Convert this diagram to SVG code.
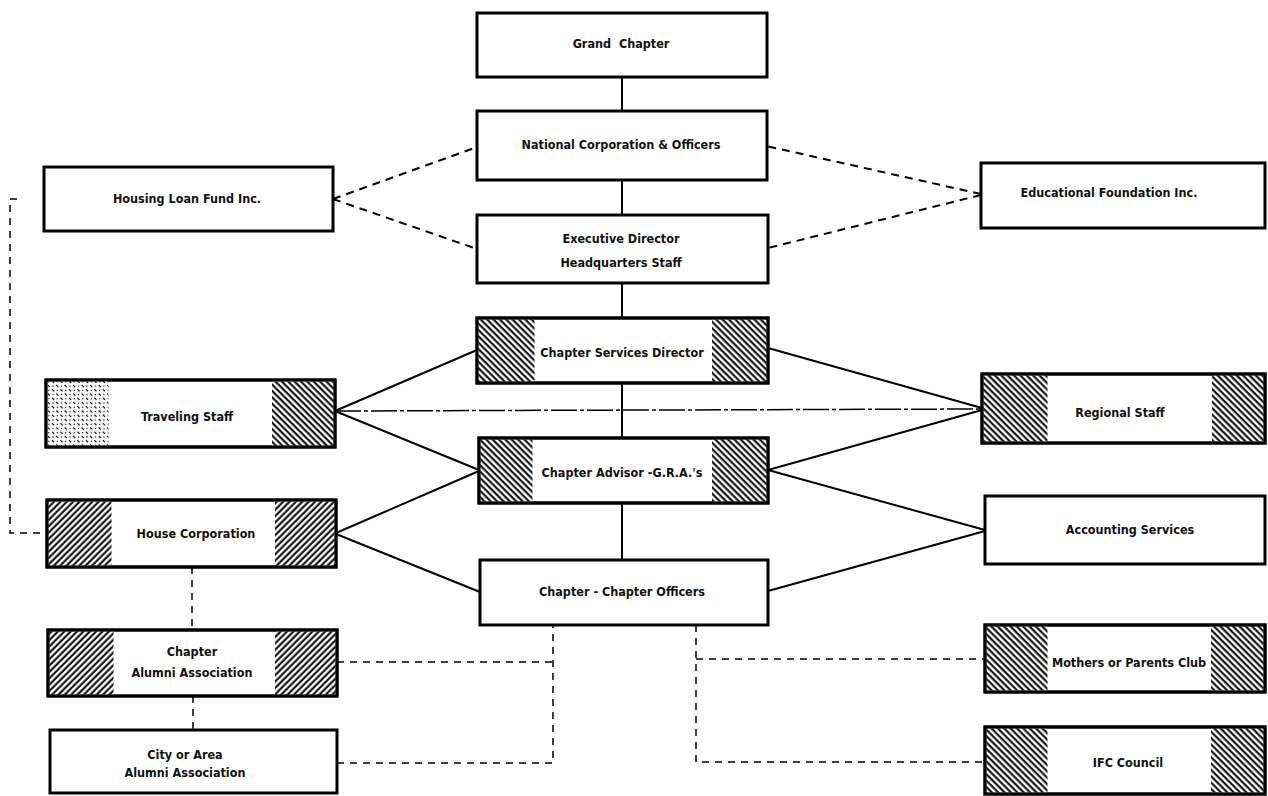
<svg xmlns="http://www.w3.org/2000/svg" width="1268" height="796" viewBox="0 0 1268 796">
<style>
.box{fill:#fff;stroke:#000;stroke-width:3}
.frame{fill:none;stroke:#000;stroke-width:3}
.t{font-family:"DejaVu Sans Condensed","Liberation Sans",sans-serif;font-weight:bold;font-size:12.5px;text-anchor:middle;fill:#111}
.solid{stroke:#000;stroke-width:2;fill:none}
.dash{stroke:#000;stroke-width:2;fill:none;stroke-dasharray:8 6}
.thin{stroke:#000;stroke-width:1.5;fill:none;stroke-dasharray:7 6}
.dd{stroke:#000;stroke-width:1.5;fill:none;stroke-dasharray:26 3 4 3}
.hb{fill:url(#hb)}
.hf{fill:url(#hf)}
.st{fill:url(#st)}
</style>
<defs>
<pattern id="hb" width="4.5" height="4.5" patternUnits="userSpaceOnUse" patternTransform="rotate(-45)">
<rect width="4.5" height="4.5" fill="#fff"/>
<line x1="1.5" y1="0" x2="1.5" y2="4.5" stroke="#000" stroke-width="2"/>
</pattern>
<pattern id="hf" width="4.5" height="4.5" patternUnits="userSpaceOnUse" patternTransform="rotate(45)">
<rect width="4.5" height="4.5" fill="#fff"/>
<line x1="1.5" y1="0" x2="1.5" y2="4.5" stroke="#000" stroke-width="2"/>
</pattern>
<pattern id="st" width="6" height="6" patternUnits="userSpaceOnUse" patternTransform="rotate(-45)">
<rect width="6" height="6" fill="#fff"/>
<line x1="1.5" y1="0" x2="1.5" y2="3" stroke="#000" stroke-width="1.2"/>
<circle cx="4.5" cy="4.5" r="0.7" fill="#000"/>
</pattern>
</defs>

<g id="connectors">
<line class="solid" x1="622" y1="77" x2="622" y2="111"/>
<line class="solid" x1="622" y1="180" x2="622" y2="215"/>
<line class="solid" x1="622" y1="283" x2="622" y2="318"/>
<line class="solid" x1="622" y1="383" x2="622" y2="438"/>
<line class="solid" x1="622" y1="503" x2="622" y2="560"/>
<line class="dash" x1="333" y1="199" x2="477" y2="147"/>
<line class="dash" x1="333" y1="199" x2="477" y2="249"/>
<line class="dash" x1="981" y1="194" x2="766" y2="146"/>
<line class="dash" x1="981" y1="195" x2="768" y2="248"/>
<line class="solid" x1="335" y1="411" x2="477" y2="350"/>
<line class="solid" x1="335" y1="411" x2="479" y2="470"/>
<line class="dd" x1="335" y1="411" x2="982" y2="409"/>
<line class="solid" x1="768" y1="348" x2="982" y2="408"/>
<line class="solid" x1="768" y1="470" x2="982" y2="410"/>
<line class="solid" x1="768" y1="470" x2="985" y2="530"/>
<line class="solid" x1="336" y1="533" x2="479" y2="471"/>
<line class="solid" x1="336" y1="534" x2="480" y2="592"/>
<line class="solid" x1="768" y1="591" x2="985" y2="531"/>
<polyline class="thin" points="17,199 10,199 10,533 46,533"/>
<line class="thin" x1="192" y1="567" x2="192" y2="630"/>
<line class="thin" x1="193" y1="696" x2="193" y2="730"/>
<polyline class="thin" points="337,662 553,662"/>
<polyline class="thin" points="337,763 553,763 553,625"/>
<polyline class="thin" points="696,625 696,762 985,762"/>
<line class="thin" x1="696" y1="659" x2="985" y2="659"/>
</g>

<g id="grand-chapter">
<rect class="box" x="477" y="13" width="290" height="64"/>
<text class="t" x="621" y="48">Grand&#160; Chapter</text>
</g>
<g id="national-corporation">
<rect class="box" x="477" y="111" width="290" height="69"/>
<text class="t" x="621" y="149">National Corporation &amp; Officers</text>
</g>
<g id="executive-director">
<rect class="box" x="477" y="215" width="291" height="68"/>
<text class="t" x="621" y="243">Executive Director</text>
<text class="t" x="621" y="267">Headquarters Staff</text>
</g>
<g id="chapter-services-director">
<rect class="box" x="477" y="318" width="291" height="65"/>
<rect class="hb" x="478.5" y="319.5" width="56" height="62"/>
<rect class="hb" x="712" y="319.5" width="54.5" height="62"/>
<rect class="frame" x="477" y="318" width="291" height="65"/>
<text class="t" x="622" y="357">Chapter Services Director</text>
</g>
<g id="chapter-advisor">
<rect class="box" x="479" y="438" width="289" height="65"/>
<rect class="hb" x="480.5" y="439.5" width="52" height="62"/>
<rect class="hb" x="712" y="439.5" width="54.5" height="62"/>
<rect class="frame" x="479" y="438" width="289" height="65"/>
<text class="t" x="622" y="477">Chapter Advisor -G.R.A.'s</text>
</g>
<g id="chapter-officers">
<rect class="box" x="480" y="560" width="288" height="65"/>
<text class="t" x="622" y="596">Chapter - Chapter Officers</text>
</g>
<g id="housing-loan-fund">
<rect class="box" x="44" y="167" width="289" height="64"/>
<text class="t" x="187" y="203">Housing Loan Fund Inc.</text>
</g>
<g id="traveling-staff">
<rect class="box" x="46" y="380" width="289" height="67"/>
<rect class="st" x="47.5" y="381.5" width="61" height="64"/>
<rect class="hb" x="272" y="381.5" width="61.5" height="64"/>
<rect class="frame" x="46" y="380" width="289" height="67"/>
<text class="t" x="187" y="421">Traveling Staff</text>
</g>
<g id="house-corporation">
<rect class="box" x="47" y="500" width="289" height="67"/>
<rect class="hf" x="48.5" y="501.5" width="63" height="64"/>
<rect class="hf" x="275" y="501.5" width="59.5" height="64"/>
<rect class="frame" x="47" y="500" width="289" height="67"/>
<text class="t" x="196" y="538">House Corporation</text>
</g>
<g id="chapter-alumni-association">
<rect class="box" x="48" y="630" width="289" height="66"/>
<rect class="hf" x="49.5" y="631.5" width="64" height="63"/>
<rect class="hf" x="275" y="631.5" width="60.5" height="63"/>
<rect class="frame" x="48" y="630" width="289" height="66"/>
<text class="t" x="192" y="656">Chapter</text>
<text class="t" x="192" y="677">Alumni Association</text>
</g>
<g id="city-area-alumni-association">
<rect class="box" x="50" y="730" width="287" height="63"/>
<text class="t" x="185" y="759">City or Area</text>
<text class="t" x="185" y="777">Alumni Association</text>
</g>
<g id="educational-foundation">
<rect class="box" x="981" y="163" width="284" height="65"/>
<text class="t" x="1109" y="197">Educational Foundation Inc.</text>
</g>
<g id="regional-staff">
<rect class="box" x="982" y="374" width="283" height="69"/>
<rect class="hb" x="983.5" y="375.5" width="64" height="66"/>
<rect class="hb" x="1212" y="375.5" width="51.5" height="66"/>
<rect class="frame" x="982" y="374" width="283" height="69"/>
<text class="t" x="1120" y="417">Regional Staff</text>
</g>
<g id="accounting-services">
<rect class="box" x="985" y="496" width="280" height="68"/>
<text class="t" x="1130" y="534">Accounting Services</text>
</g>
<g id="mothers-parents-club">
<rect class="box" x="985" y="625" width="280" height="67"/>
<rect class="hb" x="986.5" y="626.5" width="61" height="64"/>
<rect class="hb" x="1211" y="626.5" width="52.5" height="64"/>
<rect class="frame" x="985" y="625" width="280" height="67"/>
<text class="t" x="1129" y="667">Mothers or Parents Club</text>
</g>
<g id="ifc-council">
<rect class="box" x="985" y="727" width="280" height="67"/>
<rect class="hb" x="986.5" y="728.5" width="61" height="64"/>
<rect class="hb" x="1211" y="728.5" width="52.5" height="64"/>
<rect class="frame" x="985" y="727" width="280" height="67"/>
<text class="t" x="1128" y="767">IFC Council</text>
</g>
</svg>
